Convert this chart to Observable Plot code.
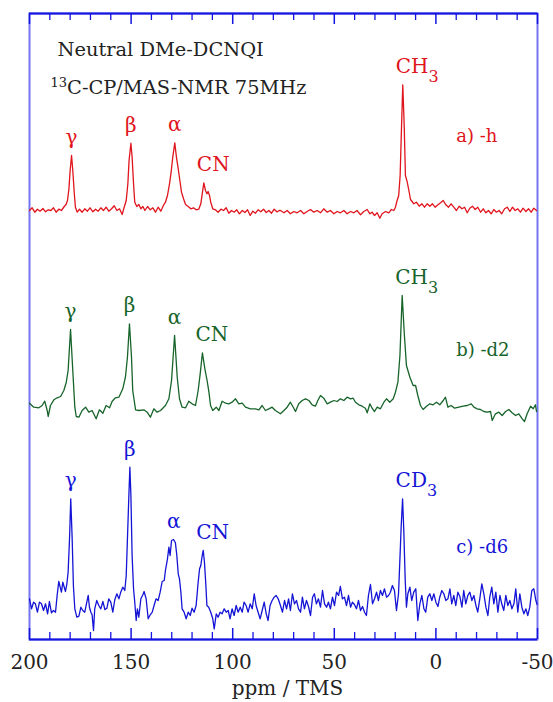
<!DOCTYPE html>
<html><head><meta charset="utf-8">
<script src="https://cdn.jsdelivr.net/npm/d3@7"></script>
<script src="https://cdn.jsdelivr.net/npm/@observablehq/plot@0.6"></script>
<style>body{margin:0;background:#fff}</style>
</head><body><div id="chart"></div>
<script>
// ---- data (ppm, intensity above each trace's baseline) ----
const specA = [ // a) -h  (red)
[200.0,0],[198.7,2.7],[197.4,-1.7],[196.1,1.3],[194.8,-0.7],[193.4,2],[192.1,-1.3],[190.8,0.7],[189.5,0],[188.2,2.7],[186.9,-1.7],[185.6,1.3],[184.3,0],[182.9,4],[182.0,6],[181.3,10],[180.6,21.7],[180.0,40],[179.3,55],[178.7,40],[178.0,18.3],[177.4,3.3],[176.5,-1.7],[175.4,1.3],[174.1,-1.7],[172.8,1.7],[171.5,-0.7],[170.2,2.7],[168.8,-1.3],[167.5,1.3],[166.2,-0.7],[164.9,2.7],[163.6,0],[162.3,3.3],[161.0,-0.7],[159.6,1.7],[158.3,4.7],[157.0,0],[155.7,1.7],[154.4,-4],[153.4,3.3],[152.4,10],[151.6,26.7],[151.0,50],[150.1,67.3],[149.5,53.3],[148.8,26.7],[148.2,8.3],[147.2,4],[146.2,6],[145.2,1.7],[144.2,4],[143.2,0],[141.9,4],[140.6,0.7],[139.3,2.7],[138.0,-1.7],[136.7,3.3],[135.4,-0.7],[134.1,5],[133.1,8.3],[132.1,15],[131.1,26.7],[130.3,38.3],[129.5,53.3],[128.5,67.7],[127.7,53.3],[126.8,41.7],[126.0,30],[125.2,18.3],[124.2,11.7],[123.2,6],[121.9,4],[120.6,1.7],[119.3,2.7],[118.0,0.7],[116.7,1.3],[115.7,6.7],[115.0,16.7],[114.2,27.7],[113.4,20],[112.7,16.7],[112.1,19],[111.4,15],[110.8,8.3],[109.8,1.7],[108.5,0.7],[107.2,-1.7],[105.8,1.3],[104.5,0],[103.2,2.7],[101.9,-2.7],[100.6,0],[99.3,-1.7],[98.0,0.7],[96.7,-3.3],[95.3,0],[94.0,-2],[92.7,0.7],[91.4,-5],[90.1,-0.7],[88.8,-2.7],[87.5,0.7],[86.2,-1.3],[84.8,1.3],[83.5,-2],[82.2,0],[80.9,-2.7],[79.6,1.3],[78.3,-1.3],[77.0,0],
[76.5,0],[74.8,-2.3],[73.2,0],[71.6,-3.3],[69.9,-1],[68.3,-2.3],[66.6,0],[65.0,-3.3],[63.4,-1],[61.7,1],[60.1,-1.7],[58.4,0],[56.8,-2.3],[55.2,1.7],[53.5,-1.7],[51.9,0],[50.2,-3.3],[48.6,-1],[47.0,-2.3],[45.3,0],[43.7,-3.3],[42.0,-1],[40.4,-2.3],[38.8,0],[37.1,-4.3],[35.5,-1],[33.8,1],[32.5,-3.3],[31.4,-1.7],[30.2,-5],[28.9,-2.3],[27.6,-7.7],[26.5,-3.3],[24.8,-1],[23.2,-2.3],[21.9,1],[20.7,0],[19.9,3.3],[19.1,10],[18.3,15],[17.6,35],[16.9,85],[16.3,125.7],[15.6,85],[15.0,35],[14.1,28.3],[13.3,20],[12.5,11],[11.7,9],[10.9,6.7],[9.6,8.3],[8.2,4.3],[6.9,6.7],[5.6,3.3],[4.3,6.7],[3.0,4.3],[1.7,6.7],[0.4,3.3],[-1.0,5.7],[-2.3,7.7],[-3.6,10],[-4.9,5.7],[-6.2,3.3],[-7.5,6.7],[-8.8,3.3],[-10.1,0],[-11.5,4.3],[-12.8,1.7],[-14.1,3.3],[-15.4,-2.3],[-16.7,2.3],[-18.0,4.3],[-19.3,1],[-20.6,3.3],[-22.0,-1.7],[-23.3,1.7],[-24.6,-2.3],[-25.9,0],[-27.2,-3.3],[-28.5,1],[-29.8,-1.7],[-31.1,0],[-32.4,-3.3],[-33.8,1.7],[-35.1,3.3],[-36.4,-1],[-37.7,3.3],[-39.0,0],[-40.3,1.7],[-41.6,-1.7],[-42.9,2.3],[-44.3,-1],[-45.6,1.7],[-46.9,-1.7],[-48.2,2.3],[-49.5,0]
];
const specB = [ // b) -d2 (green)
[200.0,2.3],[197.9,-1.7],[195.4,-2.3],[193.8,0],[192.5,4.3],[191.3,-5],[190.8,-11],[189.7,0],[188.0,5.7],[186.4,7.7],[184.7,9],[183.1,15],[181.9,23.3],[181.0,35],[179.8,76],[178.7,35],[177.7,-1.7],[177.0,-11],[175.7,-11.7],[174.1,-5],[172.4,-1.7],[170.8,-6.7],[169.2,-5],[167.2,-13.3],[165.6,-4.3],[163.9,-7.7],[162.3,0],[160.6,-2.3],[159.3,4.3],[157.7,7.7],[156.0,8.3],[154.1,16.7],[152.8,28.3],[151.8,48.3],[150.8,81.7],[149.8,48.3],[149.2,15],[147.8,-4.3],[146.2,-5],[143.7,-4.3],[142.1,-6.7],[140.5,-11.7],[138.8,-3.3],[137.2,-6.7],[135.5,-5],[133.1,0],[131.4,6.7],[130.1,25],[128.6,70],[127.3,28.3],[126.2,6.7],[124.9,-1.7],[123.2,-2.3],[121.6,4.3],[120.0,1.7],[118.3,0],[117.0,15],[116.0,31.7],[114.9,52.7],[113.7,36.7],[112.6,25],[111.7,13.3],[110.9,0],[109.8,-5],[108.1,-1.7],[106.8,-5],[105.2,4.3],[103.5,2.3],[101.9,1.7],[100.3,3.3],[98.6,6.7],[97.0,1.7],[95.3,2.3],[93.7,-1.7],[91.3,-3.3],[88.8,-3.3],[87.1,-4.3],[85.5,0],[83.9,-5],[82.2,-3.3],[80.6,-1.7],[79.0,-5],
[76.5,-8.3],[74.8,-5],[73.2,-1.7],[71.6,3.3],[70.2,-1.7],[69.1,-6],[67.5,1.7],[65.8,5],[64.2,6.7],[62.5,5],[60.9,0.7],[59.3,-0.7],[58.1,5],[56.8,10],[55.2,7.3],[53.5,1.7],[51.9,3.3],[50.2,5],[48.6,4],[47.0,6.7],[45.3,5],[43.7,8.3],[42.0,6.7],[40.7,7.3],[39.6,3.3],[37.9,0.7],[36.3,-0.7],[34.7,-2.7],[33.8,-7.3],[32.5,1.7],[31.4,-2.7],[30.2,-6],[28.9,-1.7],[27.3,-3.3],[25.6,3.3],[24.3,6.7],[22.7,3.3],[21.0,6.7],[19.9,13.3],[18.7,23.3],[17.7,50],[16.6,110],[15.5,70],[14.5,40],[12.8,28.3],[11.2,20],[10.0,20],[8.9,10],[7.6,0],[6.3,-4],[4.6,-0.7],[3.0,1.7],[1.4,0.7],[-0.3,3.3],[-1.9,0.7],[-3.6,5],[-4.7,8.3],[-5.9,-1.7],[-7.5,0],[-9.2,-2.7],[-11.3,-1.7],[-13.4,-0.7],[-15.4,0],[-17.4,1.7],[-18.7,-1.7],[-20.3,-3.3],[-21.9,-4],[-23.6,-6],[-25.2,-6.7],[-26.9,-6],[-27.7,-15],[-29.3,-8.3],[-31.0,-6.7],[-32.6,-10],[-34.3,-6],[-35.9,-4],[-37.5,-7.3],[-39.2,-10],[-40.8,-8.3],[-42.5,-13.3],[-43.6,-16],[-44.9,-8.3],[-46.6,-0.7],[-47.9,-3.3],[-49.0,0.7],[-49.5,-6]
];
const specC = [ // c) -d6 (blue)
[200.0,6.7],[199.0,-3.3],[198.0,3.3],[197.1,1.7],[196.1,-6.7],[195.1,3.3],[194.1,1.7],[193.1,-5],[192.1,1.7],[191.1,-8.3],[190.2,4],[189.2,-7.3],[188.2,-5],[187.2,-6.7],[186.4,10],[185.6,24],[184.9,18.3],[184.3,13.3],[183.6,23.3],[182.9,18.3],[182.3,14],[181.6,21.7],[181.0,33.3],[180.3,66.7],[179.7,106.7],[179.0,66.7],[178.4,20],[177.7,-3.3],[176.7,-11.7],[175.7,-10.7],[174.7,-1.7],[173.8,-5],[172.8,-6.7],[171.8,3.3],[171.1,10],[170.5,-1.7],[169.8,-6.7],[169.2,-9.3],[168.5,-25],[167.9,-3.3],[166.9,5],[165.9,0],[164.9,-3.3],[163.9,4],[162.9,-4],[161.9,-2.7],[161.0,6.7],[160.0,3.3],[159.0,-6.7],[158.0,6],[157.0,11.7],[156.0,6.7],[155.1,13.3],[154.1,18.3],[153.1,15],[152.4,30],[151.8,66.7],[151.1,110],[150.6,138.3],[150.1,110],[149.5,50],[148.8,16.7],[148.2,3.3],[147.5,-15],[146.9,-3.3],[146.2,-11.7],[145.2,6.7],[144.2,10.7],[143.6,14],[142.6,6.7],[141.6,-13.3],[140.6,-9.3],[139.6,-6.7],[138.7,0],[137.7,6.7],[136.7,5],[135.7,13.3],[134.7,24],[133.7,25],[133.1,35],[132.1,46.7],[131.4,58.3],[130.8,50],[130.1,65],[129.1,66],[128.2,62.7],[127.5,50],[126.8,31.7],[126.2,26.7],[125.5,13.3],[124.9,-3.3],[123.9,-6.7],[122.9,-13.3],[121.9,-6.7],[120.9,-10],[120.0,-2.7],[119.0,-6.7],[118.0,0],[117.0,23.3],[116.3,36.7],[115.7,40],[115.0,50],[114.5,55],[113.9,43.3],[113.2,20],[112.7,0],[111.8,-1.7],[110.8,-6.7],[109.8,-13.3],[109.1,-23.3],[108.1,-8.3],[107.2,-11.7],[106.2,-6.7],[105.2,-8.3],[104.2,-3.3],[103.2,-6.7],[102.2,-5],[101.3,-13.3],[100.3,-3.3],[99.3,-10],[98.3,0],[97.3,-6.7],[96.3,-1.7],[95.3,-6.7],[94.4,3.3],[93.4,0],[92.4,-6.7],[91.4,1.7],[90.4,-3.3],[89.4,11.7],[88.5,0],[87.5,-6.7],[86.5,-13.3],[85.5,-5],[84.5,3.3],[83.5,-8.3],[82.6,-15],[81.6,0],[80.6,5],[79.6,8.3],[78.6,10],[77.6,6.7],
[76.5,0],[75.5,-6.7],[74.5,5],[73.5,-3.3],[72.5,6.7],[71.6,-5],[70.6,11.7],[69.6,1.7],[68.6,5],[67.6,-3.3],[66.6,-6.7],[65.7,8.3],[64.7,-3.3],[63.7,5],[62.7,-1],[61.7,-10],[60.7,8.3],[59.8,11.7],[58.8,1.7],[57.8,6.7],[56.8,-1.7],[55.8,15],[54.8,1.7],[53.8,-1.7],[52.9,3.3],[51.9,-3.3],[50.9,8.3],[49.9,0],[48.9,13.3],[47.9,10],[47.0,19],[46.0,6.7],[45.0,8.3],[44.0,0],[43.0,10],[42.0,-1.7],[41.1,3.3],[40.1,1],[39.1,-3.3],[38.1,5],[37.1,-5],[36.1,-1],[35.1,-6.7],[34.2,-10],[33.2,10],[32.2,21],[31.2,1.7],[30.2,6.7],[29.2,13.3],[28.3,5],[27.3,15],[26.3,10],[25.3,16.7],[24.3,8.3],[23.3,10],[22.4,13.3],[21.4,20],[20.4,15],[19.4,-5],[18.4,11.7],[17.8,41.7],[17.1,78.3],[16.4,106.7],[15.8,75],[15.1,25],[14.5,-1.7],[13.8,11.7],[12.8,18.3],[11.9,5],[10.9,13.3],[9.9,16.7],[8.9,-15],[7.9,1.7],[6.9,10],[5.9,-3.3],[5.0,-6.7],[4.0,8.3],[3.0,11.7],[2.0,5],[1.0,11.7],[0.0,3.3],[-1.0,-1],[-1.9,8.3],[-2.9,15],[-3.9,11.7],[-4.9,5],[-5.9,6.7],[-6.9,16.7],[-7.8,1.7],[-8.8,10],[-9.8,0],[-10.8,13.3],[-11.8,9],[-12.8,-1.7],[-13.7,15],[-14.7,1.7],[-15.7,10],[-16.7,13.3],[-17.7,5],[-18.7,10],[-19.7,0],[-20.6,-6.7],[-21.6,6.7],[-22.6,21.7],[-23.6,11.7],[-24.6,-1.7],[-25.6,-10],[-26.5,8.3],[-27.5,18.3],[-28.5,1.7],[-29.5,13.3],[-30.5,-6.7],[-31.5,10],[-32.4,1.7],[-33.4,-5],[-34.4,10],[-35.4,0],[-36.4,5],[-37.4,-3.3],[-38.4,1.7],[-39.3,16.7],[-40.3,-6.7],[-41.3,11.7],[-42.3,-1.7],[-43.3,-8.3],[-44.3,-3.3],[-45.2,-10],[-46.2,-1.7],[-47.2,15],[-48.2,16.7],[-49.2,5],[-49.8,1]
];

const seriesKeys = ["a", "b", "c"];
const seriesNames = ["a) -h", "b) -d2", "c) -d6"];
const seriesColors = ["#e0141c", "#17642a", "#1414d6"];
const seriesOffsets = [429, 234, 34];   // vertical stacking of the traces
const tagLevels = [74, 55, 58];         // height of the a)/b)/c) tags above each baseline
const tagPpm = -10;

const peakSeries = ["a","a","a","a","a", "b","b","b","b","b", "c","c","c","c","c"];
const peakTexts  = ["γ","β","α","CN","CH3", "γ","β","α","CN","CH3", "γ","β","α","CN","CD3"];
const peakPpm    = [179.3,150.1,128.5,114.2,16.3, 179.8,150.8,128.6,114.9,16.6, 179.7,150.6,129.0,114.5,16.4];

const majorTicks = [200, 150, 100, 50, 0, -50];
const minorTicks = [190,180,170,160,140,130,120,110,90,80,70,60,40,30,20,10,-10,-20,-30,-40];
const yDomain = [0, 626];

const titleLine1 = "Neutral DMe-DCNQI";
const titleLine2 = "13C-CP/MAS-NMR 75MHz";
const xLabel = "ppm / TMS";

// ---- build tables ----
const specs = [specA, specB, specC];
const rows = [];
specs.forEach((spec, i) => spec.forEach(([p, v]) => rows.push({s: seriesKeys[i], ppm: p, y: seriesOffsets[i] + v})));

const peaks = peakTexts.map((t, i) => {
  const si = seriesKeys.indexOf(peakSeries[i]);
  const near = specs[si].filter(([p]) => Math.abs(p - peakPpm[i]) <= 1.2);
  const top = d3.max(near, d => d[1]);
  return {s: peakSeries[i], text: t, ppm: peakPpm[i], y: seriesOffsets[si] + top, single: t.length === 1};
});
const tags = seriesKeys.map((k, i) => ({s: k, text: seriesNames[i], ppm: tagPpm, y: seriesOffsets[i] + tagLevels[i]}));

const blue = "#1414e0";
const ink = "#222";

const chart = Plot.plot({
  width: 553, height: 702,
  marginLeft: 29, marginRight: 16, marginTop: 13, marginBottom: 63,
  style: {fontFamily: "'DejaVu Serif', serif", fontSize: "18px", background: "#fff"},
  x: {domain: [200, -50]},
  y: {domain: yDomain, axis: null},
  color: {domain: seriesKeys, range: seriesColors},
  marks: [
    Plot.frame({stroke: "#7474f0", strokeWidth: 2}),
    Plot.ruleY(yDomain, {stroke: blue, strokeWidth: 2}),
    Plot.tickX(minorTicks, {x: d => d, insetTop: 619, stroke: blue, strokeWidth: 1.3}),
    Plot.tickX(minorTicks, {x: d => d, insetBottom: 619, stroke: blue, strokeWidth: 1.3}),
    Plot.tickX(majorTicks, {x: d => d, insetTop: 615, stroke: blue, strokeWidth: 1.5}),
    Plot.tickX(majorTicks, {x: d => d, insetBottom: 615, stroke: blue, strokeWidth: 1.5}),
    Plot.axisX(majorTicks, {tickSize: 0, tickPadding: 15, fontSize: 20, fill: ink, label: null, tickFormat: d => String(d)}),
    Plot.line(rows, {x: "ppm", y: "y", z: "s", stroke: "s", strokeWidth: 1.3}),
    Plot.text(peaks.filter(d => d.single), {x: "ppm", y: "y", text: "text", fill: "s", dy: -18, fontSize: 20, textAnchor: "middle"}),
    Plot.text(peaks.filter(d => !d.single), {x: "ppm", y: "y", text: "text", fill: "s", dy: -18, dx: -7, fontSize: 20, textAnchor: "start"}),
    Plot.text(tags, {x: "ppm", y: "y", text: "text", fill: "s", fontSize: 18, textAnchor: "start"}),
    Plot.text([titleLine1], {text: d => d, frameAnchor: "top-left", dx: 28, dy: 29, fontSize: 19.4, fill: ink, textAnchor: "start"}),
    Plot.text([titleLine2], {text: d => d, frameAnchor: "top-left", dx: 21, dy: 67, fontSize: 19.4, fill: ink, textAnchor: "start"}),
    Plot.text([xLabel], {text: d => d, frameAnchor: "bottom", dx: 4, dy: 55, fontSize: 20, fill: ink})
  ]
});

// sub/superscripts
const NS = "http://www.w3.org/2000/svg";
function rebuild(el, parts) {
  while (el.firstChild) el.removeChild(el.firstChild);
  parts.forEach(([txt, attrs]) => {
    const t = document.createElementNS(NS, "tspan");
    Object.entries(attrs).forEach(([k, v]) => t.setAttribute(k, v));
    t.textContent = txt;
    el.appendChild(t);
  });
}
chart.querySelectorAll("text").forEach(el => {
  const s = el.textContent;
  let m;
  if ((m = s.match(/^(C[HD])3$/))) {
    rebuild(el, [[m[1], {}], ["3", {dy: "9", "font-size": "16"}]]);
  } else if (s === titleLine2) {
    rebuild(el, [["13", {dy: "-7", "font-size": "13"}], [s.slice(2), {dy: "7"}]]);
  }
});
document.getElementById("chart").appendChild(chart);
</script>
</body></html>
